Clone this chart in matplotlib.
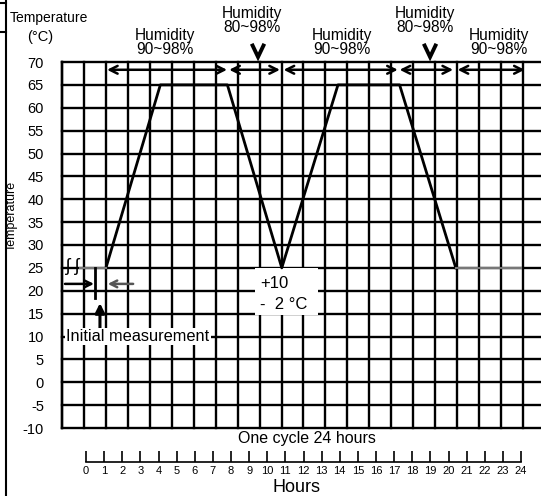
import numpy as np
import matplotlib.pyplot as plt
from matplotlib.lines import Line2D
from matplotlib.patches import Rectangle

plt.rcParams['font.family'] = ['Liberation Sans', 'DejaVu Sans']
plt.rcParams['axes.unicode_minus'] = False

# --- data ---
temp_ticks = list(range(-10, 75, 5))
profile_hours = [1.1, 4.1, 7.8, 10.8, 13.9, 17.3, 20.4]
profile_temps = [25, 65, 65, 25, 65, 65, 25]
start_flat = ([-0.33, 1.1], [25, 25])
end_flat = ([20.4, 24.0], [25, 25])
humid_spans = [(1.16, 7.78), (7.9, 10.7), (10.9, 17.2), (17.3, 20.25), (20.5, 24.2)]
humid_labels = ['Humidity\n90~98%', 'Humidity\n80~98%', 'Humidity\n90~98%',
                'Humidity\n80~98%', 'Humidity\n90~98%']
humid_label_x = [4.36, 9.16, 14.12, 18.7, 22.8]
humid_label_y = [74.2, 79.1, 74.2, 79.1, 74.2]
hour_ticks = list(range(0, 25))

W, H = 541, 496
fig = plt.figure(figsize=(W / 100, H / 100), dpi=100)

# px -> figure fraction helpers
def fx(px): return px / W
def fy(py): return 1 - py / H

ax = fig.add_axes([fx(62), fy(428), fx(541) - fx(62), fy(62) - fy(428)])
x0, x1 = -1.324, 25.10
ax.set_xlim(x0, x1)
ax.set_ylim(-10, 70)
for s in ax.spines.values():
    s.set_visible(False)
ax.set_xticks([])
ax.set_yticks(temp_ticks)
ax.tick_params(axis='y', length=0, pad=13, labelsize=10.5)

# grid
col_w = 1.2110
for k in range(22):
    ax.plot([x0 + k * col_w] * 2, [-10, 70], color='black', lw=1.7, zorder=1,
            solid_capstyle='projecting', clip_on=False)
for t in temp_ticks:
    ax.plot([x0, x1], [t, t], color='black', lw=1.7, zorder=1, clip_on=False)

# profile
ax.plot(profile_hours, profile_temps, color='black', lw=2.0, zorder=4)
ax.plot(*start_flat, color='#777777', lw=1.5, zorder=4)
ax.plot(*end_flat, color='#777777', lw=1.5, zorder=4)

# humidity spans
for a, b in humid_spans:
    ax.annotate('', xy=(a, 68.3), xytext=(b, 68.3),
                arrowprops=dict(arrowstyle='<->', color='black', lw=1.8,
                                mutation_scale=14, shrinkA=0, shrinkB=0), zorder=5)
for lx, ly, lab in zip(humid_label_x, humid_label_y, humid_labels):
    ax.text(lx, ly, lab, ha='center', va='center', fontsize=11.2,
            linespacing=0.9, clip_on=False)
for hx in [9.49, 18.98]:
    ax.plot([hx - 0.3, hx, hx + 0.3], [73.6, 71.1, 73.6], color='black',
            lw=2.8, clip_on=False, solid_joinstyle='miter')

# +10 / -2 box
ax.add_patch(Rectangle((9.32, 14.7), 3.48, 10.3, facecolor='white',
                       edgecolor='none', zorder=3))
ax.text(9.6, 21.6, '+10', fontsize=12, va='center', zorder=6)
ax.text(9.6, 16.9, '-  2 \u00b0C', fontsize=12, va='center', zorder=6)

# initial measurement marks
ax.text(-0.75, 25.2, '\u0283 \u0283', fontsize=13, ha='center', va='center', zorder=6)
ax.plot([0.5, 0.5], [25, 18.5], color='black', lw=2.0, zorder=4)
ax.annotate('', xy=(0.44, 21.5), xytext=(-1.16, 21.5),
            arrowprops=dict(arrowstyle='->', color='black', lw=1.8,
                            mutation_scale=12, shrinkA=0, shrinkB=0))
ax.annotate('', xy=(1.2, 21.5), xytext=(2.6, 21.5),
            arrowprops=dict(arrowstyle='->', color='#555555', lw=1.8,
                            mutation_scale=12, shrinkA=0, shrinkB=0))
ax.annotate('', xy=(0.77, 17.3), xytext=(0.77, 11.4),
            arrowprops=dict(arrowstyle='-|>', color='black', lw=2.2,
                            mutation_scale=14, shrinkA=0, shrinkB=0))
ax.text(2.85, 10, 'Initial measurement', fontsize=11.8, ha='center', va='center',
        zorder=6, bbox=dict(facecolor='white', edgecolor='none', pad=1))
# left border stays visible over the label box
ax.plot([x0, x0], [-10, 70], color='black', lw=1.7, zorder=7, clip_on=False)

# titles around the grid
fig.text(fx(10), fy(18), 'Temperature', fontsize=10, va='center', ha='left')
fig.text(fx(40), fy(37), '(\u00b0C)', fontsize=10.5, va='center', ha='center')
fig.text(fx(12), fy(216), 'Temperature', fontsize=9, rotation=90,
         va='center', ha='center')
fig.text(fx(307), fy(438), 'One cycle 24 hours', fontsize=11.5,
         va='center', ha='center')

# hours axis
axh = fig.add_axes([fx(86), fy(462), fx(521) - fx(86), 0.02])
axh.set_xlim(0, 24)
axh.set_ylim(0, 1)
for side in ['top', 'left', 'right']:
    axh.spines[side].set_visible(False)
axh.spines['bottom'].set_linewidth(1.2)
axh.set_yticks([])
axh.set_xticks(hour_ticks)
axh.tick_params(axis='x', direction='in', length=8, width=1.2, pad=3, labelsize=8)
axh.patch.set_visible(False)
fig.text(fx(297), fy(488), 'Hours', fontsize=13, va='center', ha='center')

# outer frame bits
fig.add_artist(Line2D([fx(6), fx(6)], [0, 1], color='black', lw=1.5))
fig.add_artist(Line2D([0, fx(6)], [fy(3), fy(3)], color='black', lw=1.5))
fig.add_artist(Line2D([0, fx(6)], [fy(32), fy(32)], color='black', lw=1.5))

fig.savefig('out.png', dpi=100)
